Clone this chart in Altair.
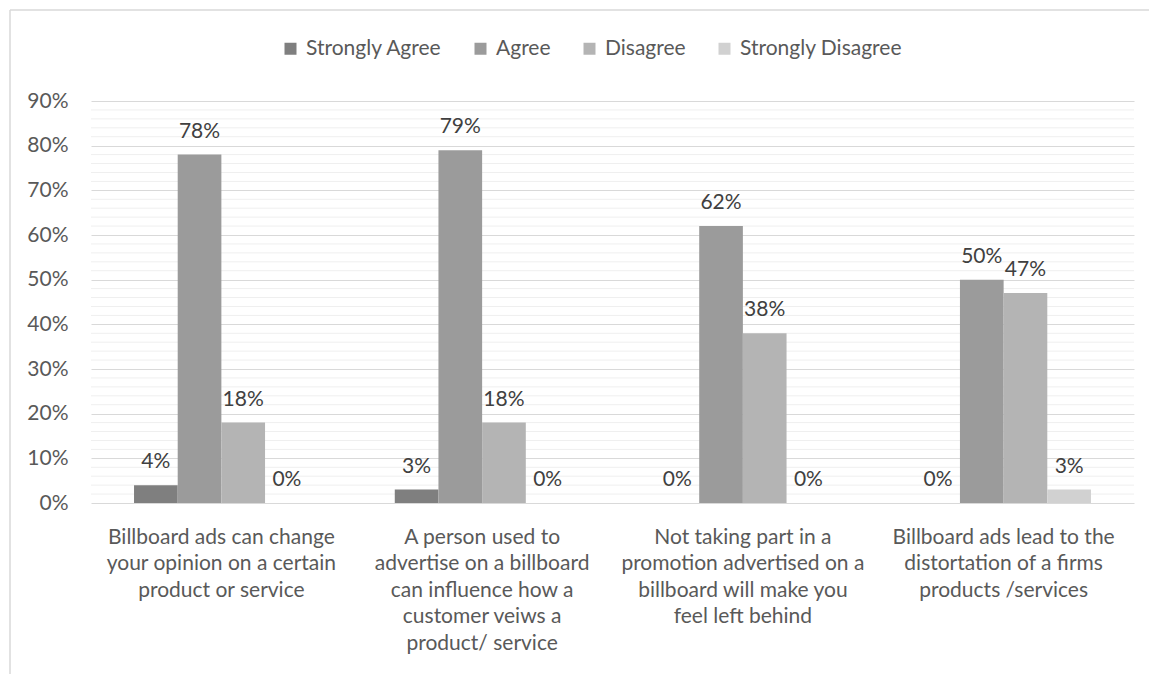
import altair as alt
import pandas as pd

categories = [
    "Billboard ads can change|your opinion on a certain|product or service",
    "A person used to|advertise on a billboard|can influence how a|customer veiws a|product/ service",
    "Not taking part in a|promotion advertised on a|billboard will make you|feel left behind",
    "Billboard ads lead to the|distortation of a firms|products /services",
]
levels = ["Strongly Agree", "Agree", "Disagree", "Strongly Disagree"]
strongly_agree = [0.04, 0.03, 0.0, 0.0]
agree = [0.78, 0.79, 0.62, 0.50]
disagree = [0.18, 0.18, 0.38, 0.47]
strongly_disagree = [0.0, 0.0, 0.0, 0.03]
colors = ["#7f7f7f", "#9b9b9b", "#b4b4b4", "#d1d1d1"]
major_ticks = [0, 0.1, 0.2, 0.3, 0.4, 0.5, 0.6, 0.7, 0.8, 0.9]
minor_ticks = [round(i / 50, 2) for i in range(1, 45) if i % 5 != 0]

rows = []
for series, name in zip([strongly_agree, agree, disagree, strongly_disagree], levels):
    for c, v in zip(categories, series):
        rows.append({"cat": c, "level": name, "value": v})
df = pd.DataFrame(rows)
minor_df = pd.DataFrame({"v": minor_ticks})

FONT = "Lato"
TXT = "#595959"
FS = 21

W, H = 1043, 402
PAD = {"left": 91, "top": 101, "right": 15, "bottom": 171}

y_axis = alt.Axis(format=".0%", values=major_ticks, grid=True, gridColor="#d9d9d9",
                  domain=False, ticks=False, labelFontSize=FS, labelColor=TXT,
                  labelPadding=23, title=None)
y_scale = alt.Scale(domain=[0, 0.9])

x_enc = alt.X(
    "cat:N", sort=categories,
    scale=alt.Scale(paddingInner=0.33, paddingOuter=0.165),
    axis=alt.Axis(title=None, labelExpr="split(datum.label, '|')", labelAngle=0,
                  labelFontSize=FS, labelLineHeight=26.5, labelColor=TXT,
                  domain=False, ticks=False, labelPadding=23, labelLimit=0,
                  labelBaseline="top"),
)

minor = alt.Chart(minor_df).mark_rule(color="#efefef", strokeWidth=1).encode(
    y=alt.Y("v:Q", scale=y_scale, axis=y_axis)
)

base = alt.Chart(df).encode(
    x=x_enc,
    xOffset=alt.XOffset("level:N", sort=levels),
)

bars = base.mark_bar().encode(
    y=alt.Y("value:Q", scale=y_scale, axis=y_axis),
    color=alt.Color("level:N", sort=levels,
                    scale=alt.Scale(domain=levels, range=colors),
                    legend=alt.Legend(orient="none", legendX=189, legendY=-63,
                                      direction="horizontal", title=None,
                                      symbolType="square", symbolSize=144,
                                      symbolStrokeWidth=0, labelFontSize=FS,
                                      labelColor=TXT, labelOffset=5,
                                      labelLimit=0, columnPadding=28)),
)

labels = base.mark_text(baseline="alphabetic", dy=-17, fontSize=FS, color="#404040").encode(
    y=alt.Y("value:Q", scale=y_scale),
    text=alt.Text("value:Q", format=".0%"),
)

frame_data = alt.Data(values=[{}])
top_border = alt.Chart(frame_data).mark_rule(color="#d9d9d9", strokeWidth=1.5).encode(
    x=alt.value(10 - PAD["left"]), x2=alt.value(1149 - PAD["left"]),
    y=alt.value(10 - PAD["top"]),
)
left_border = alt.Chart(frame_data).mark_rule(color="#d9d9d9", strokeWidth=1.5).encode(
    x=alt.value(10 - PAD["left"]),
    y=alt.value(10 - PAD["top"]), y2=alt.value(674 - PAD["top"]),
)

chart = alt.layer(minor, bars, labels, top_border, left_border).properties(
    width=W, height=H,
    autosize=alt.AutoSizeParams(type="none"),
    padding=PAD,
).configure(font=FONT).configure_view(stroke=None)

chart.save("out.html", embed_options={"renderer": "svg", "actions": False})
